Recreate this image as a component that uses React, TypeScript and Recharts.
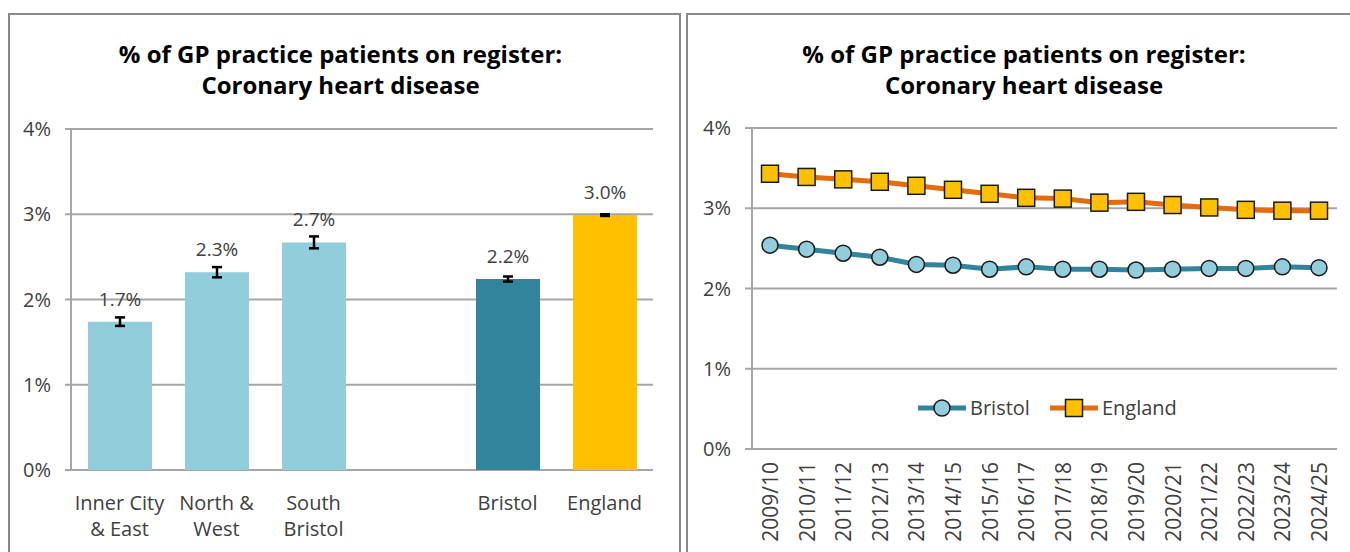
import React from "react";
import {
  BarChart,
  Bar,
  Cell,
  ErrorBar,
  LabelList,
  LineChart,
  Line,
  XAxis,
  YAxis,
  CartesianGrid,
  Legend,
} from "recharts";

// bar panel
const areaNames = ["Inner City\n& East", "North &\nWest", "South\nBristol", "", "Bristol", "England"];
const areaValues = [1.74, 2.32, 2.67, null, 2.24, 2.99];
const areaErrors = [0.05, 0.06, 0.07, null, 0.03, 0.01];
const areaColors = ["#92CDDC", "#92CDDC", "#92CDDC", "#92CDDC", "#31849B", "#FFC000"];

// trend panel
const years = [
  "2009/10", "2010/11", "2011/12", "2012/13", "2013/14", "2014/15", "2015/16", "2016/17",
  "2017/18", "2018/19", "2019/20", "2020/21", "2021/22", "2022/23", "2023/24", "2024/25",
];
const bristolTrend = [2.54, 2.49, 2.44, 2.39, 2.3, 2.29, 2.24, 2.27, 2.24, 2.24, 2.23, 2.24, 2.25, 2.25, 2.27, 2.26];
const englandTrend = [3.43, 3.39, 3.36, 3.33, 3.28, 3.23, 3.18, 3.13, 3.12, 3.07, 3.08, 3.04, 3.01, 2.98, 2.97, 2.97];

const pctTicks = [0, 1, 2, 3, 4];

const barData = areaNames.map((name, i) => ({
  name,
  value: areaValues[i],
  err: areaErrors[i],
}));

const lineData = years.map((year, i) => ({
  year,
  bristol: bristolTrend[i],
  england: englandTrend[i],
}));

const GRID = "#A6A6A6";
const TEXT = "#404040";
const FONT = '"Open Sans", sans-serif';

function AreaTick({ x, y, payload }: any) {
  const lines = String(payload.value).split("\n");
  return (
    <text x={x} y={y} textAnchor="middle" fill={TEXT} fontSize={20}>
      {lines.map((l, i) => (
        <tspan key={i} x={x} dy={i === 0 ? 40 : 26}>
          {l}
        </tspan>
      ))}
    </text>
  );
}

function YearTick({ x, y, payload }: any) {
  return (
    <text
      transform={`translate(${x},${y + 13}) rotate(-90)`}
      textAnchor="end"
      dominantBaseline="central"
      fill={TEXT}
      fontSize={21}
    >
      {payload.value}
    </text>
  );
}

function SquareDot(props: any) {
  const { cx, cy, index } = props;
  if (cx == null || cy == null) return null;
  return (
    <rect
      key={index}
      x={cx - 8.5}
      y={cy - 8.5}
      width={17}
      height={17}
      fill="#FFC000"
      stroke="#1a1a1a"
      strokeWidth={1.5}
    />
  );
}

function TrendLegend({ payload }: any) {
  return (
    <div style={{ display: "flex", alignItems: "center", fontSize: 20, color: TEXT, fontFamily: FONT }}>
      {(payload || []).map((p: any, i: number) => (
        <div key={p.value} style={{ display: "flex", alignItems: "center", marginLeft: i ? 20 : 0 }}>
          <svg width={48} height={22}>
            <line x1={0} x2={48} y1={11} y2={11} stroke={p.color} strokeWidth={5} />
            {p.dataKey === "england" ? (
              <rect x={15.5} y={2.5} width={17} height={17} fill="#FFC000" stroke="#1a1a1a" strokeWidth={1.5} />
            ) : (
              <circle cx={24} cy={11} r={8} fill="#92CDDC" stroke="#1a1a1a" strokeWidth={1.5} />
            )}
          </svg>
          <span style={{ marginLeft: 4 }}>{p.value}</span>
        </div>
      ))}
    </div>
  );
}

const titleStyle: React.CSSProperties = {
  position: "absolute",
  top: 38,
  textAlign: "center",
  fontWeight: 700,
  fontSize: 24,
  lineHeight: "31px",
  color: "#000",
  fontFamily: FONT,
};

export default function App() {
  return (
    <div
      style={{
        position: "fixed",
        left: 0,
        top: 0,
        width: 1350,
        height: 552,
        overflow: "hidden",
        background: "#fff",
        fontFamily: FONT,
      }}
    >
      <div
        style={{
          position: "absolute",
          left: 8,
          top: 13,
          width: 673,
          height: 580,
          boxSizing: "border-box",
          border: "2px solid #8A8A8A",
        }}
      />
      <div
        style={{
          position: "absolute",
          left: 686,
          top: 13,
          width: 676,
          height: 580,
          boxSizing: "border-box",
          border: "2px solid #8A8A8A",
        }}
      />

      <div style={{ ...titleStyle, left: 8, width: 665 }}>
        % of GP practice patients on register:
        <br />
        Coronary heart disease
      </div>
      <div style={{ ...titleStyle, left: 686, width: 676 }}>
        % of GP practice patients on register:
        <br />
        Coronary heart disease
      </div>

      <div style={{ position: "absolute", left: 0, top: 0 }}>
        <BarChart
          width={680}
          height={552}
          data={barData}
          margin={{ top: 129, right: 27, bottom: 0, left: 11 }}
        >
          <CartesianGrid xAxisId="cat" vertical={false} stroke={GRID} strokeWidth={2} />
          <XAxis
            xAxisId="frame"
            type="number"
            domain={[0, 6]}
            ticks={[0, 1, 2, 3, 4, 5, 6]}
            interval={0}
            height={0}
            tickSize={7}
            tickFormatter={() => ""}
            axisLine={{ stroke: GRID, strokeWidth: 2 }}
            tickLine={{ stroke: GRID, strokeWidth: 2 }}
          />
          <XAxis
            xAxisId="cat"
            dataKey="name"
            height={82}
            interval={0}
            tickSize={0}
            tickMargin={0}
            axisLine={false}
            tickLine={false}
            tick={<AreaTick />}
          />
          <YAxis
            width={60}
            domain={[0, 4]}
            ticks={pctTicks}
            interval={0}
            tickSize={6}
            tickMargin={14}
            tickFormatter={(v) => `${v}%`}
            tick={{ fill: TEXT, fontSize: 20 }}
            axisLine={{ stroke: GRID, strokeWidth: 2 }}
            tickLine={{ stroke: GRID, strokeWidth: 2 }}
          />
          <Bar xAxisId="cat" dataKey="value" barSize={64} isAnimationActive={false}>
            {barData.map((d, i) => (
              <Cell key={i} fill={areaColors[i]} />
            ))}
            <ErrorBar dataKey="err" width={5} stroke="#000" strokeWidth={2.5} direction="y" />
            <LabelList
              dataKey="value"
              position="top"
              offset={16}
              fill={TEXT}
              fontSize={19}
              formatter={(v: any) => (v == null ? "" : `${Number(v).toFixed(1)}%`)}
            />
          </Bar>
        </BarChart>
      </div>

      <div style={{ position: "absolute", left: 686, top: 0 }}>
        <LineChart
          width={664}
          height={552}
          data={lineData}
          margin={{ top: 128, right: 13, bottom: 0, left: 10 }}
        >
          <CartesianGrid xAxisId="cat" vertical={false} stroke={GRID} strokeWidth={2} />
          <XAxis
            xAxisId="frame"
            type="number"
            domain={[0, 16]}
            ticks={years.map((_, i) => i).concat([years.length])}
            interval={0}
            height={0}
            tickSize={7}
            tickFormatter={() => ""}
            axisLine={{ stroke: GRID, strokeWidth: 2 }}
            tickLine={{ stroke: GRID, strokeWidth: 2 }}
          />
          <XAxis
            xAxisId="cat"
            dataKey="year"
            height={103}
            interval={0}
            padding={{ left: 18, right: 18 }}
            tickSize={0}
            tickMargin={0}
            axisLine={false}
            tickLine={false}
            tick={<YearTick />}
          />
          <YAxis
            width={56}
            domain={[0, 4]}
            ticks={pctTicks}
            interval={0}
            tickSize={7}
            tickMargin={14}
            tickFormatter={(v) => `${v}%`}
            tick={{ fill: TEXT, fontSize: 20 }}
            axisLine={{ stroke: GRID, strokeWidth: 2 }}
            tickLine={{ stroke: GRID, strokeWidth: 2 }}
          />
          <Legend
            layout="horizontal"
            verticalAlign="middle"
            align="center"
            content={<TrendLegend />}
            wrapperStyle={{ top: 394, left: 232, width: "auto" }}
          />
          <Line
            xAxisId="cat"
            type="linear"
            dataKey="bristol"
            name="Bristol"
            stroke="#31849B"
            strokeWidth={5}
            dot={{ r: 8, fill: "#92CDDC", stroke: "#1a1a1a", strokeWidth: 1.5 }}
            activeDot={false}
            isAnimationActive={false}
          />
          <Line
            xAxisId="cat"
            type="linear"
            dataKey="england"
            name="England"
            stroke="#E46C0A"
            strokeWidth={5}
            dot={SquareDot}
            activeDot={false}
            isAnimationActive={false}
          />
        </LineChart>
      </div>
    </div>
  );
}
